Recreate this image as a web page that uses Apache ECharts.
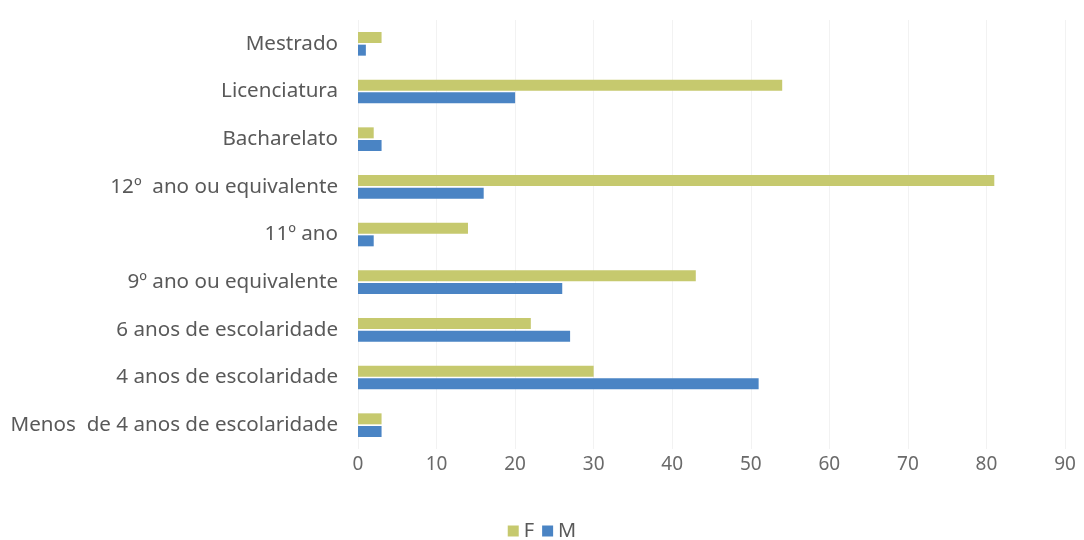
<!DOCTYPE html>
<html><head><meta charset="utf-8">
<script src="https://cdn.jsdelivr.net/npm/echarts@6/dist/echarts.min.js"></script>
<style>html,body{margin:0;padding:0;background:#fff}#c{width:1084px;height:540px}</style>
</head><body><div id="c"></div>
<script>
const categories = ["Menos  de 4 anos de escolaridade","4 anos de escolaridade","6 anos de escolaridade","9º ano ou equivalente","11º ano","12º  ano ou equivalente","Bacharelato","Licenciatura","Mestrado"];
const valuesF = [3, 30, 22, 43, 14, 81, 2, 54, 3];
const valuesM = [3, 51, 27, 26, 2, 16, 3, 20, 1];
const xTicks = [0,10,20,30,40,50,60,70,80,90];
const font = "'Noto Sans', 'Open Sans', sans-serif";
const chart = echarts.init(document.getElementById('c'));
chart.setOption({
  animation:false,
  grid:{left:358, right:19, top:20, bottom:91},
  legend:{bottom:-6, left:'center', itemWidth:11, itemHeight:11, itemGap:8, icon:'rect',
    textStyle:{color:'#595959', fontSize:20, fontFamily:font}, data:['F','M']},
  xAxis:{type:'value', min:0, max:90, interval:10,
    axisLine:{show:false}, axisTick:{show:false},
    splitLine:{lineStyle:{color:'#f2f2f2'}},
    axisLabel:{color:'#6a6a6a', fontSize:19, fontFamily:font, margin:6}},
  yAxis:{type:'category', data:categories,
    axisLine:{show:false}, axisTick:{show:false},
    axisLabel:{color:'#595959', fontSize:20.6, fontFamily:font, margin:20}},
  series:[
    {name:'F', type:'bar', data:valuesF, barWidth:11, barGap:'15%', itemStyle:{color:'#c6c96e'}},
    {name:'M', type:'bar', data:valuesM, barWidth:11, barGap:'15%', itemStyle:{color:'#4a84c4'}}
  ]
});
</script></body></html>
